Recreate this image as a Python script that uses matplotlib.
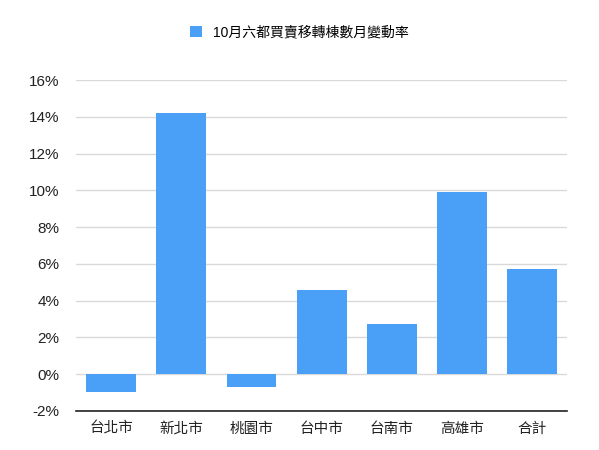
import matplotlib
matplotlib.use("Agg")
import matplotlib.pyplot as plt
from matplotlib.ticker import FuncFormatter

plt.rcParams['font.family'] = ['Liberation Sans', 'Noto Sans CJK TC', 'DejaVu Sans']

cities = ['台北市', '新北市', '桃園市', '台中市', '台南市', '高雄市', '合計']
rates = [-1.0, 14.2, -0.7, 4.6, 2.7, 9.9, 5.7]
series_name = '10月六都買賣移轉棟數月變動率'
yticks = [-2, 0, 2, 4, 6, 8, 10, 12, 14, 16]

fig = plt.figure(figsize=(5.99, 4.5), dpi=100)
ax = fig.add_axes([0.127, 0.087, 0.82, 0.735])

bars = ax.bar(cities, rates, width=0.71, color='#4a9ff7', label=series_name, zorder=3)

ax.set_ylim(-2, 16)
ax.set_xlim(-0.5, len(cities) - 0.5)
ax.set_yticks(yticks)
ax.yaxis.set_major_formatter(FuncFormatter(lambda v, p: '%d%%' % v))
ax.grid(axis='y', color='#d9d9d9', linewidth=1, zorder=0)
for s in ['top', 'right', 'left']:
    ax.spines[s].set_visible(False)
ax.spines['bottom'].set_color('#222222')
ax.spines['bottom'].set_linewidth(1.2)
ax.tick_params(axis='both', length=0, colors='#222222')
ax.tick_params(axis='y', pad=12, labelsize=11)
ax.tick_params(axis='x', pad=8, labelsize=10.5)

fig.legend(handles=[bars], labels=[series_name], loc='center', bbox_to_anchor=(0.5, 0.928),
           frameon=False, fontsize=10, handlelength=0.9, handleheight=0.9, handletextpad=0.8)

fig.savefig('out.png', dpi=100, facecolor='white')
